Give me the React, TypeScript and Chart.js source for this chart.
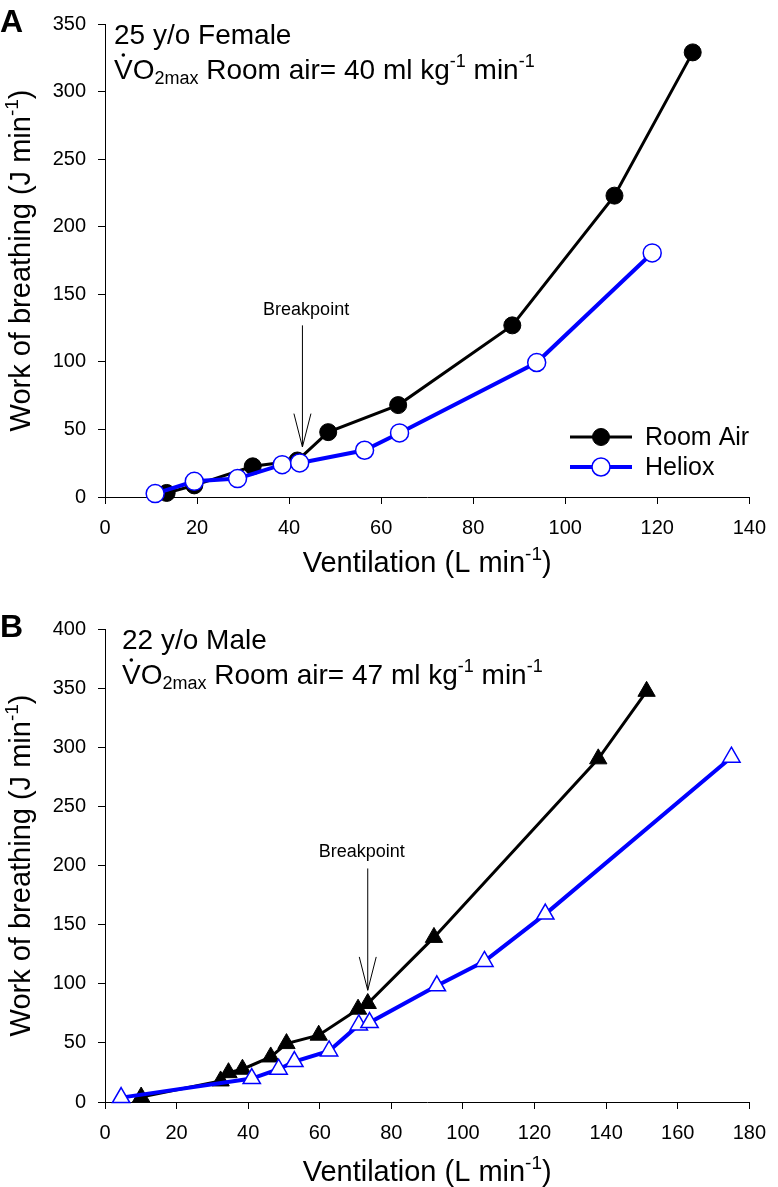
import React, { useEffect, useRef } from "react";
import { Chart, registerables } from "chart.js";
Chart.register(...registerables);

const FONT = "'Liberation Sans', Arial, Helvetica, sans-serif";

// ---------- Panel A data (25 y/o female) ----------
const roomAirA_x = [13.4, 19.4, 32.1, 41.8, 48.5, 63.7, 88.5, 110.7, 127.7];
const roomAirA_y = [3.0, 8.6, 22.7, 27.0, 48.0, 68.0, 127.0, 223.0, 329.0];
const helioxA_x = [10.9, 19.4, 28.8, 38.5, 42.3, 56.4, 64.0, 93.8, 118.9];
const helioxA_y = [2.5, 11.6, 13.6, 23.9, 25.2, 34.6, 47.4, 99.5, 180.6];

// ---------- Panel B data (22 y/o male) ----------
const roomAirB_x = [10.1, 32.3, 34.5, 38.4, 46.3, 50.7, 59.7, 70.7, 73.4, 91.9, 137.8, 151.3];
const roomAirB_y = [4.2, 17.8, 24.8, 27.7, 38.1, 49.4, 56.5, 78.5, 83.3, 139.2, 290.2, 347.3];
const helioxB_x = [4.5, 41.0, 48.5, 52.9, 62.6, 70.9, 73.9, 92.7, 106.0, 123.0, 175.0];
const helioxB_y = [3.7, 19.8, 27.7, 34.2, 43.2, 65.2, 67.2, 98.3, 118.9, 158.9, 291.6];

// axis ranges [min, max, step]
const xAxisA = [0, 140, 20];
const yAxisA = [0, 350, 50];
const xAxisB = [0, 180, 20];
const yAxisB = [0, 400, 50];

// breakpoint annotations: [textX, textY], [arrowX, lineTopY, headTopY, tipY, headHalfWidth]
const breakTextA = [43.7, 138];
const breakArrowA = [42.9, 127, 61.7, 37, 1.85];
const breakTextB = [71.7, 211.5];
const breakArrowB = [73.4, 197.5, 122.7, 94.5, 2.37];

const seriesNames = ["Room Air", "Heliox"];
const subjectA = ["25 y/o Female", "40"];
const subjectB = ["22 y/o Male", "47"];

type Run = { t: string; size: number; dy: number; dot?: boolean };

function drawRuns(ctx: CanvasRenderingContext2D, runs: Run[], x: number, y: number, align: "left" | "center") {
  ctx.textAlign = "left";
  ctx.textBaseline = "alphabetic";
  let total = 0;
  for (const r of runs) {
    ctx.font = `${r.size}px ${FONT}`;
    total += ctx.measureText(r.t).width;
  }
  let cx = align === "center" ? x - total / 2 : x;
  for (const r of runs) {
    ctx.font = `${r.size}px ${FONT}`;
    const w = ctx.measureText(r.t).width;
    ctx.fillText(r.t, cx, y + r.dy);
    if (r.dot) {
      ctx.beginPath();
      ctx.arc(cx + w / 2, y + r.dy - r.size * 0.716 - 4, 1.8, 0, Math.PI * 2);
      ctx.fill();
    }
    cx += w;
  }
}

type Spec = {
  label: string;
  canvasH: number;
  xAxis: number[];
  yAxis: number[];
  ra: number[][];
  he: number[][];
  style: "circle" | "triangle";
  subject: string[];
  annotX: number;
  breakText: number[];
  breakArrow: number[];
  legend: boolean;
  xTitleBaseline: number;
};

const PLOT_TOP = 24;
const PLOT_BOTTOM = 497;
const PLOT_LEFT = 105;
const PLOT_RIGHT = 765;

function makeChart(canvas: HTMLCanvasElement, s: Spec) {
  const W = 778;
  const isCircle = s.style === "circle";
  const overlay = {
    id: "overlay" + s.label,
    afterDatasetsDraw(chart: any) {
      const ctx: CanvasRenderingContext2D = chart.ctx;
      const xs = chart.scales.x;
      const ys = chart.scales.y;
      ctx.save();
      const [bx, lineTop, headTop, tip, hw] = s.breakArrow;
      const ax = xs.getPixelForValue(bx);
      const tipPx = ys.getPixelForValue(tip);
      ctx.strokeStyle = "#000";
      ctx.lineWidth = 1;
      ctx.beginPath();
      ctx.moveTo(ax, ys.getPixelForValue(lineTop));
      ctx.lineTo(ax, tipPx);
      ctx.stroke();
      const hy = ys.getPixelForValue(headTop);
      ctx.beginPath();
      ctx.moveTo(xs.getPixelForValue(bx - hw), hy);
      ctx.lineTo(ax, tipPx);
      ctx.lineTo(xs.getPixelForValue(bx + hw), hy);
      ctx.stroke();
      ctx.fillStyle = "#000";
      ctx.font = `18px ${FONT}`;
      ctx.textAlign = "center";
      ctx.textBaseline = "middle";
      ctx.fillText("Breakpoint", xs.getPixelForValue(s.breakText[0]), ys.getPixelForValue(s.breakText[1]));
      ctx.restore();
    },
    afterDraw(chart: any) {
      const ctx: CanvasRenderingContext2D = chart.ctx;
      const area = chart.chartArea;
      ctx.save();
      ctx.fillStyle = "#000";
      ctx.font = `bold 32px ${FONT}`;
      ctx.textAlign = "left";
      ctx.textBaseline = "alphabetic";
      ctx.fillText(s.label, 0, 32);
      drawRuns(ctx, [{ t: s.subject[0], size: 28, dy: 0 }], s.annotX, 44, "left");
      drawRuns(
        ctx,
        [
          { t: "V", size: 28, dy: 0, dot: true },
          { t: "O", size: 28, dy: 0 },
          { t: "2max", size: 18, dy: 5 },
          { t: " Room air= " + s.subject[1] + " ml kg", size: 28, dy: 0 },
          { t: "-1", size: 18, dy: -12 },
          { t: " min", size: 28, dy: 0 },
          { t: "-1", size: 18, dy: -12 },
        ],
        s.annotX,
        79,
        "left"
      );
      drawRuns(
        ctx,
        [
          { t: "Ventilation (L min", size: 29, dy: 0 },
          { t: "-1", size: 19, dy: -12 },
          { t: ")", size: 29, dy: 0 },
        ],
        (area.left + area.right) / 2,
        s.xTitleBaseline,
        "center"
      );
      ctx.save();
      ctx.translate(30, (area.top + area.bottom) / 2);
      ctx.rotate(-Math.PI / 2);
      drawRuns(
        ctx,
        [
          { t: "Work of breathing (J min", size: 29, dy: 0 },
          { t: "-1", size: 19, dy: -12 },
          { t: ")", size: 29, dy: 0 },
        ],
        0,
        0,
        "center"
      );
      ctx.restore();
      if (s.legend) {
        const rows = [437, 467];
        chart.data.datasets.forEach((ds: any, i: number) => {
          const y = rows[i];
          ctx.strokeStyle = ds.borderColor;
          ctx.lineWidth = ds.borderWidth;
          ctx.beginPath();
          ctx.moveTo(570, y);
          ctx.lineTo(632, y);
          ctx.stroke();
          ctx.beginPath();
          ctx.arc(601, y, ds.pointRadius, 0, Math.PI * 2);
          ctx.fillStyle = ds.pointBackgroundColor;
          ctx.fill();
          ctx.lineWidth = ds.pointBorderWidth;
          ctx.strokeStyle = ds.pointBorderColor;
          ctx.stroke();
          ctx.fillStyle = "#000";
          ctx.font = `25px ${FONT}`;
          ctx.textAlign = "left";
          ctx.textBaseline = "middle";
          ctx.fillText(ds.label, 645, y + 1);
        });
      }
      ctx.restore();
    },
  };

  const toPts = (xs: number[], ys: number[]) => xs.map((x, i) => ({ x, y: ys[i] }));

  return new Chart(canvas, {
    type: "line",
    data: {
      datasets: [
        {
          label: seriesNames[0],
          data: toPts(s.ra[0], s.ra[1]),
          borderColor: "#000000",
          borderWidth: 3,
          pointStyle: s.style,
          pointRadius: isCircle ? 8.5 : 10,
          pointBackgroundColor: "#000000",
          pointBorderColor: "#000000",
          pointBorderWidth: 1,
          tension: 0,
          clip: false,
          order: 2,
        } as any,
        {
          label: seriesNames[1],
          data: toPts(s.he[0], s.he[1]),
          borderColor: "#0000ff",
          borderWidth: 4,
          pointStyle: s.style,
          pointRadius: isCircle ? 9 : 10,
          pointBackgroundColor: "#ffffff",
          pointBorderColor: "#0000ff",
          pointBorderWidth: 1.5,
          tension: 0,
          clip: false,
          order: 1,
        } as any,
      ],
    },
    options: {
      animation: false,
      responsive: false,
      events: [],
      layout: {
        autoPadding: false,
        padding: { top: PLOT_TOP, left: 0, right: W - PLOT_RIGHT, bottom: 0 },
      } as any,
      plugins: { legend: { display: false }, tooltip: { enabled: false } },
      scales: {
        x: {
          type: "linear",
          min: s.xAxis[0],
          max: s.xAxis[1],
          afterFit: (sc: any) => {
            sc.height = s.canvasH - PLOT_BOTTOM;
          },
          ticks: { stepSize: s.xAxis[2], color: "#000", font: { family: FONT, size: 20 }, padding: 12, maxRotation: 0 },
          grid: { display: true, drawOnChartArea: false, drawTicks: true, tickLength: 7, color: "#000", lineWidth: 1 },
          border: { display: true, color: "#000", width: 1 },
        },
        y: {
          type: "linear",
          min: s.yAxis[0],
          max: s.yAxis[1],
          afterFit: (sc: any) => {
            sc.width = PLOT_LEFT;
          },
          ticks: { stepSize: s.yAxis[2], color: "#000", font: { family: FONT, size: 20 }, padding: 12 },
          grid: { display: true, drawOnChartArea: false, drawTicks: true, tickLength: 7, color: "#000", lineWidth: 1 },
          border: { display: true, color: "#000", width: 1 },
        },
      },
    } as any,
    plugins: [overlay],
  });
}

const specA: Spec = {
  label: "A",
  canvasH: 600,
  xAxis: xAxisA,
  yAxis: yAxisA,
  ra: [roomAirA_x, roomAirA_y],
  he: [helioxA_x, helioxA_y],
  style: "circle",
  subject: subjectA,
  annotX: 114,
  breakText: breakTextA,
  breakArrow: breakArrowA,
  legend: true,
  xTitleBaseline: 572,
};

const specB: Spec = {
  label: "B",
  canvasH: 582,
  xAxis: xAxisB,
  yAxis: yAxisB,
  ra: [roomAirB_x, roomAirB_y],
  he: [helioxB_x, helioxB_y],
  style: "triangle",
  subject: subjectB,
  annotX: 122,
  breakText: breakTextB,
  breakArrow: breakArrowB,
  legend: false,
  xTitleBaseline: 576,
};

function Panel({ spec, top }: { spec: Spec; top: number }) {
  const ref = useRef<HTMLCanvasElement>(null);
  useEffect(() => {
    if (!ref.current) return;
    const c = makeChart(ref.current, spec);
    return () => c.destroy();
  }, [spec]);
  return (
    <canvas
      ref={ref}
      width={778}
      height={spec.canvasH}
      style={{ position: "absolute", left: 0, top, width: 778, height: spec.canvasH }}
    />
  );
}

export default function App() {
  return (
    <div style={{ position: "absolute", left: 0, top: 0, width: 778, height: 1187, background: "#fff", overflow: "hidden" }}>
      <Panel spec={specA} top={0} />
      <Panel spec={specB} top={605} />
    </div>
  );
}
